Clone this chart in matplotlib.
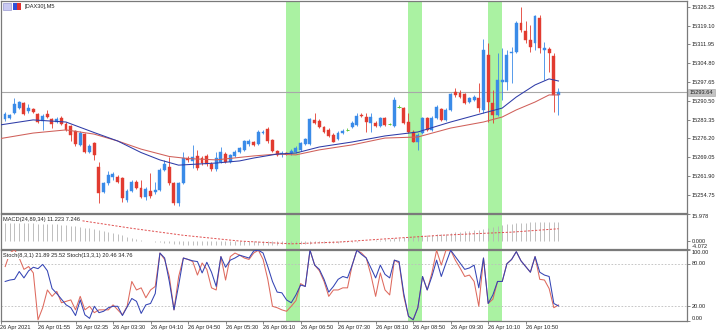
import matplotlib
matplotlib.use('Agg')
import matplotlib.pyplot as plt
import matplotlib.transforms as mtrans
from matplotlib.patches import Rectangle
import numpy as np

plt.rcParams['font.family'] = ['Liberation Sans', 'DejaVu Sans']

# ---------------- data (M5 DAX30 candles) ----------------
opens = [15283.4, 15284.0, 15285.7, 15287.6, 15289.5, 15286.6, 15287.2, 15285.3, 15282.9, 15285.3,
         15283.4, 15282.5, 15284.0, 15281.6, 15280.9, 15279.0, 15273.7, 15277.8, 15271.1, 15274.3,
         15265.4, 15255.9, 15259.1, 15261.5, 15261.6, 15261.0, 15252.7, 15256.2, 15259.7, 15257.4,
         15254.0, 15256.2, 15255.7, 15256.5, 15264.2, 15265.4, 15259.1, 15251.5, 15259.1, 15268.8,
         15267.7, 15269.5, 15268.7, 15269.5, 15266.4, 15264.5, 15267.2, 15270.2, 15267.3, 15269.5,
         15271.1, 15271.8, 15274.0, 15274.8, 15274.0, 15278.1, 15279.7, 15275.6, 15271.5, 15270.2,
         15270.7, 15270.5, 15271.1, 15271.8, 15274.0, 15274.0, 15283.2, 15282.9, 15280.6, 15279.4,
         15277.5, 15275.8, 15278.1, 15279.4, 15280.6, 15281.3, 15285.1, 15284.2, 15281.9, 15282.1,
         15280.9, 15283.8, 15281.6, 15280.9, 15288.2, 15287.6, 15282.5, 15278.7, 15274.9, 15278.1,
         15283.8, 15279.4, 15283.8, 15287.2, 15283.2, 15287.0, 15293.9, 15293.6, 15293.1, 15290.1,
         15290.8, 15291.4, 15287.0, 15307.9, 15289.5, 15285.1, 15297.7, 15297.7, 15308.5, 15309.1,
         15320.2, 15317.0, 15313.6, 15312.3, 15321.8, 15309.8, 15310.1, 15307.5, 15292.7]
highs = [15286.2, 15285.5, 15291.4, 15290.5, 15290.1, 15289.1, 15287.7, 15285.8, 15285.5, 15287.0,
         15283.9, 15284.3, 15284.7, 15282.4, 15281.3, 15279.4, 15279.0, 15278.2, 15274.0, 15274.8,
         15267.3, 15259.6, 15263.8, 15263.5, 15262.3, 15261.5, 15256.9, 15260.4, 15260.4, 15260.4,
         15257.7, 15263.0, 15259.7, 15264.9, 15268.0, 15269.2, 15259.6, 15259.6, 15271.1, 15269.5,
         15273.7, 15271.8, 15269.5, 15270.2, 15267.2, 15271.0, 15273.0, 15271.0, 15270.2, 15271.8,
         15272.9, 15275.6, 15275.9, 15275.2, 15279.4, 15279.4, 15280.5, 15275.9, 15271.8, 15271.5,
         15271.0, 15272.1, 15273.3, 15274.8, 15276.3, 15283.9, 15285.7, 15283.5, 15280.9, 15280.1,
         15278.2, 15279.0, 15279.7, 15280.1, 15282.8, 15285.7, 15285.7, 15285.7, 15285.7, 15282.8,
         15284.3, 15284.3, 15282.0, 15291.9, 15288.9, 15288.1, 15285.7, 15279.4, 15278.2, 15284.3,
         15284.3, 15284.7, 15288.9, 15287.7, 15287.7, 15293.4, 15295.2, 15294.6, 15293.4, 15291.9,
         15292.7, 15297.1, 15313.9, 15312.3, 15294.6, 15308.5, 15310.4, 15309.8, 15311.0, 15320.8,
         15326.3, 15320.9, 15319.3, 15323.1, 15323.1, 15312.9, 15311.0, 15308.5, 15295.2]
lows = [15282.8, 15283.5, 15285.4, 15287.3, 15285.1, 15285.7, 15285.8, 15282.0, 15279.4, 15283.9,
        15280.1, 15282.0, 15281.3, 15279.0, 15275.2, 15273.3, 15273.3, 15270.6, 15270.6, 15268.0,
        15251.6, 15255.4, 15258.4, 15260.4, 15259.1, 15252.1, 15251.9, 15255.8, 15256.9, 15253.5,
        15252.7, 15253.5, 15255.0, 15256.2, 15263.8, 15258.4, 15250.8, 15250.6, 15258.8, 15267.2,
        15264.9, 15264.2, 15266.1, 15265.7, 15263.8, 15263.8, 15266.8, 15266.8, 15266.8, 15269.1,
        15270.6, 15271.4, 15273.3, 15273.3, 15273.7, 15277.8, 15274.4, 15271.0, 15269.5, 15269.2,
        15269.9, 15269.9, 15270.6, 15271.4, 15273.7, 15273.7, 15281.6, 15280.1, 15278.2, 15276.7,
        15274.8, 15275.6, 15277.8, 15279.0, 15280.1, 15280.9, 15284.3, 15278.7, 15278.7, 15280.5,
        15280.5, 15280.9, 15281.3, 15280.5, 15287.7, 15281.6, 15278.2, 15274.8, 15271.8, 15277.8,
        15279.0, 15279.0, 15283.5, 15282.8, 15282.8, 15286.6, 15292.0, 15291.5, 15289.3, 15289.6,
        15290.4, 15286.3, 15285.7, 15282.5, 15281.9, 15284.7, 15290.8, 15294.6, 15297.1, 15308.6,
        15316.7, 15312.3, 15309.1, 15309.8, 15308.5, 15298.4, 15301.5, 15286.3, 15285.1]
closes = [15285.3, 15285.1, 15289.1, 15289.9, 15285.4, 15287.8, 15286.1, 15282.5, 15284.7, 15284.2,
          15281.6, 15283.4, 15281.6, 15279.4, 15277.5, 15273.9, 15278.3, 15271.1, 15273.3, 15269.9,
          15255.3, 15259.1, 15262.3, 15262.5, 15259.7, 15253.4, 15256.2, 15259.7, 15257.4, 15254.0,
          15256.9, 15254.3, 15256.5, 15264.2, 15266.3, 15259.1, 15251.5, 15259.1, 15268.8, 15268.0,
          15269.1, 15264.8, 15266.8, 15266.4, 15264.5, 15268.7, 15271.0, 15267.3, 15269.9, 15271.1,
          15272.4, 15275.2, 15275.2, 15273.7, 15278.6, 15278.7, 15275.2, 15271.5, 15269.9, 15270.7,
          15270.2, 15271.5, 15272.6, 15274.3, 15275.8, 15283.4, 15282.1, 15280.6, 15278.5, 15277.1,
          15274.9, 15278.3, 15279.1, 15279.4, 15282.1, 15284.7, 15284.6, 15282.5, 15284.2, 15280.9,
          15283.8, 15281.3, 15281.6, 15290.8, 15288.2, 15281.9, 15278.7, 15274.9, 15277.5, 15283.8,
          15279.4, 15283.8, 15288.2, 15283.2, 15287.0, 15293.1, 15292.7, 15292.0, 15289.5, 15291.4,
          15292.0, 15287.6, 15309.8, 15290.1, 15285.1, 15298.4, 15298.4, 15307.9, 15309.1, 15320.2,
          15317.4, 15313.6, 15311.0, 15322.7, 15310.4, 15310.4, 15308.5, 15292.7, 15293.64]

# moving averages (bar index, price)
ma_fast_bars = [-1, 6, 13, 19, 24, 29, 33, 37, 41, 45, 50, 53, 58, 62, 67, 74, 81, 88, 95, 102, 106, 109, 113, 116, 118]
ma_fast_vals = [15281.3, 15283.2, 15282.4, 15278.4, 15275.2, 15270.8, 15268.0, 15266.0, 15266.4, 15266.8,
                15267.6, 15268.7, 15270.2, 15270.6, 15272.9, 15274.8, 15277.1, 15278.6, 15282.4, 15285.8,
                15287.7, 15291.9, 15296.5, 15298.8, 15298.0]
ma_slow_bars = [-1, 6, 13, 19, 24, 29, 35, 39, 45, 53, 58, 62, 67, 74, 81, 88, 95, 102, 106, 109, 113, 116, 118]
ma_slow_vals = [15276.1, 15278.2, 15279.4, 15277.8, 15275.2, 15272.1, 15269.3, 15268.5, 15268.0, 15269.5,
                15270.2, 15269.9, 15271.8, 15273.7, 15276.3, 15276.7, 15280.1, 15282.4, 15284.3, 15287.0,
                15290.0, 15292.7, 15292.7]

# MACD histogram and signal
macd_hist = [10.6, 10.6, 10.5, 10.5, 10.4, 10.4, 10.3, 10.2, 10.1, 10.0,
             9.9, 9.7, 9.5, 9.3, 9.0, 8.7, 8.3, 7.9, 7.5, 7.0,
             6.5, 5.9, 5.3, 4.7, 4.0, 3.4, 2.8, 2.2, 1.6, 1.0,
             0.5, 0.1, -0.3, -0.6, -0.9, -1.1, -1.4, -1.6, -1.8, -1.9,
             -2.0, -2.1, -2.2, -2.2, -2.3, -2.3, -2.3, -2.3, -2.3, -2.2,
             -2.2, -2.1, -2.1, -2.0, -2.0, -1.9, -1.9, -1.8, -1.8, -1.7,
             -1.7, -1.6, -1.6, -1.5, -1.4, -1.3, -1.2, -1.1, -1.0, -0.9,
             -0.8, -0.7, -0.6, -0.5, -0.3, -0.1, 0.1, 0.3, 0.5, 0.7,
             1.0, 1.3, 1.6, 1.9, 2.2, 2.5, 2.8, 3.0, 3.2, 3.4,
             3.6, 3.8, 4.0, 4.2, 4.5, 4.8, 5.1, 5.4, 5.7, 6.0,
             6.4, 6.8, 7.3, 7.8, 8.3, 8.8, 9.3, 9.7, 10.1, 10.4,
             10.6, 10.8, 11.0, 11.1, 11.2, 11.3, 11.3, 11.25, 11.223]
signal_bars = [0, 8, 16, 27, 38, 50, 61, 71, 82, 93, 101, 108, 118]
signal_vals = [13.5, 12.8, 12.0, 7.5, 3.5, 0.2, -1.4, -0.4, 1.6, 3.5, 4.5, 5.3, 7.246]

# Stochastics (main lines)
stoch_8 = [76, 95, 100, 88, 72, 76, 67, 1, 18, 43, 34, 41, 25, 27, 29, 15, 34, 15, 20, 11,
           15, 15, 15, 22, 15, 8, 20, 55, 43, 46, 32, 43, 48, 95, 86, 62, 15, 62, 88, 86,
           83, 64, 81, 72, 46, 43, 90, 57, 90, 95, 92, 88, 86, 95, 99, 86, 58, 20, 18, 15,
           13, 20, 28, 52, 48, 99, 78, 70, 55, 34, 43, 43, 46, 46, 78, 99, 95, 88, 64, 34,
           67, 43, 36, 85, 81, 34, 6, 1, 18, 62, 43, 67, 99, 78, 99, 99, 85, 74, 62, 64,
           55, 20, 88, 24, 30, 55, 55, 80, 86, 97, 84, 76, 68, 90, 58, 57, 45, 18, 21.89]
stoch_13 = [55, 57, 58, 69, 60, 70, 75, 73, 79, 70, 45, 38, 30, 22, 18, 7, 29, 8, 3, 20,
            11, 13, 18, 20, 20, 7, 19, 31, 27, 10, 22, 24, 38, 95, 88, 55, 15, 50, 88, 86,
            84, 83, 67, 82, 68, 48, 90, 75, 85, 88, 92, 90, 88, 98, 99, 95, 76, 55, 40, 39,
            29, 25, 36, 50, 48, 99, 78, 72, 58, 40, 48, 58, 62, 60, 78, 99, 93, 88, 74, 60,
            78, 65, 60, 85, 83, 38, 6, 1, 18, 62, 43, 62, 85, 62, 81, 99, 90, 81, 72, 74,
            78, 46, 88, 24, 36, 55, 55, 80, 86, 97, 84, 76, 68, 90, 68, 64, 62, 24, 20.46]

time_labels = ["26 Apr 2021", "26 Apr 01:55", "26 Apr 02:35", "26 Apr 03:30", "26 Apr 04:10",
               "26 Apr 04:50", "26 Apr 05:30", "26 Apr 06:10", "26 Apr 06:50", "26 Apr 07:30",
               "26 Apr 08:10", "26 Apr 08:50", "26 Apr 09:30", "26 Apr 10:10", "26 Apr 10:50"]
label_bars = [-1, 7, 15, 23, 31, 39, 47, 55, 63, 71, 79, 87, 95, 103, 111]
price_ticks = [15254.75, 15261.90, 15269.05, 15276.20, 15283.35, 15290.50,
               15297.65, 15304.80, 15311.95, 15319.10, 15326.25]
band_starts = [60, 86, 103]
last_price = 15293.64

# ---------------- styling ----------------
W, H = 720, 334
BLUE = '#3A8BE8'
RED = '#E23B30'
GREEN = '#5DC43A'
MA_BLUE = '#2E3CA8'
MA_RED = '#D0605A'
BAND = '#AAF2A2'
SPINE = '#7A7A7A'
FS = 4.1

fig = plt.figure(figsize=(W / 100, H / 100), dpi=100)
fig.patch.set_facecolor('white')


def rect(x0, y0, x1, y1):
    return [x0 / W, 1 - y1 / H, (x1 - x0) / W, (y1 - y0) / H]


ax1 = fig.add_axes(rect(0.5, 1, 687, 212.5))
ax2 = fig.add_axes(rect(0.5, 213.5, 687, 248.5))
ax3 = fig.add_axes(rect(0.5, 249.5, 687, 320.5))

XMIN, XMAX = -0.96, 145.4
for ax in (ax1, ax2, ax3):
    ax.set_xlim(XMIN, XMAX)
    for s in ax.spines.values():
        s.set_color(SPINE)
        s.set_linewidth(0.9)
    ax.yaxis.tick_right()
    ax.tick_params(axis='y', labelsize=FS, length=2, width=0.5, color='#555555',
                   labelcolor='#222222', pad=1.5)
    for b in band_starts:
        ax.axvspan(b - 0.1, b + 2.9, color=BAND, lw=0, zorder=0)

# ---------------- main panel ----------------
o = np.array(opens); h = np.array(highs); l = np.array(lows); c = np.array(closes)
x = np.arange(len(o))
up = c > o
dn = c < o
dj = c == o

ax1.vlines(x[up], l[up], h[up], color=BLUE, lw=0.6, zorder=3)
ax1.vlines(x[dn], l[dn], h[dn], color=RED, lw=0.6, zorder=3)
ax1.vlines(x[dj], l[dj], h[dj], color=GREEN, lw=0.6, zorder=3)
ax1.bar(x[up], c[up] - o[up], bottom=o[up], width=0.62, color=BLUE, edgecolor=BLUE, lw=0.3, zorder=4)
ax1.bar(x[dn], o[dn] - c[dn], bottom=c[dn], width=0.62, color=RED, edgecolor=RED, lw=0.3, zorder=4)
ax1.hlines(c[dj], x[dj] - 0.35, x[dj] + 0.35, color=GREEN, lw=0.7, zorder=4)

ax1.plot(ma_slow_bars, ma_slow_vals, color=MA_RED, lw=0.75, zorder=5)
ax1.plot(ma_fast_bars, ma_fast_vals, color=MA_BLUE, lw=0.75, zorder=5)

ax1.axhline(last_price, color='#A8A8A8', lw=0.8, zorder=2)
ax1.set_ylim(15247.99, 15328.42)
ax1.set_yticks(price_ticks)
ax1.set_yticklabels([f"{p:.2f}" for p in price_ticks])
ax1.tick_params(axis='x', bottom=False, labelbottom=False)
trans1 = mtrans.blended_transform_factory(ax1.transAxes, ax1.transData)
ax1.text(1.004, last_price, f"{last_price:.2f}", transform=trans1, fontsize=FS,
         va='center', ha='left', color='#222222',
         bbox=dict(boxstyle='square,pad=0.25', fc='#C4C4C4', ec='#A0A0A0', lw=0.4), zorder=6)

# header icons and symbol
fig.add_artist(Rectangle((3 / W, 1 - 10 / H), 8 / W, 7 / H, transform=fig.transFigure,
                         fc='#C9C9F2', ec='#8888C8', lw=0.4))
fig.add_artist(Rectangle((12.5 / W, 1 - 10 / H), 4 / W, 7 / H, transform=fig.transFigure,
                         fc='#3050D8', ec='none'))
fig.add_artist(Rectangle((16.5 / W, 1 - 10 / H), 4 / W, 7 / H, transform=fig.transFigure,
                         fc='#E03030', ec='none'))
fig.text(25 / W, 1 - 6.8 / H, "[DAX30],M5", fontsize=FS, va='center', ha='left', color='#222222')

# ---------------- MACD panel ----------------
mh = np.array(macd_hist)
ax2.vlines(np.arange(len(mh)), 0, mh, color='#B4B4B4', lw=0.6, zorder=2)
ax2.plot(signal_bars, signal_vals, color='#E05050', lw=0.7, ls=(0, (2.2, 1.6)), zorder=3)
ax2.set_ylim(-4.072, 15.978)
ax2.set_yticks([15.978, 0.0, -4.072])
ax2.set_yticklabels(['15.978', '0.000', '-4.072'])
for lab, va in zip(ax2.get_yticklabels(), ['top', 'center', 'bottom']):
    lab.set_va(va)
ax2.tick_params(axis='x', bottom=False, labelbottom=False)
ax2.text(0.004, 0.9, "MACD(24,89,34) 11.223 7.246", transform=ax2.transAxes, fontsize=FS,
         va='top', ha='left', color='#222222',
         bbox=dict(boxstyle='square,pad=0.1', fc='white', ec='none'), zorder=6)

# ---------------- Stochastic panel ----------------
ax3.axhline(80, color='#BDBDBD', lw=0.6, ls=(0, (2, 2)), zorder=1)
ax3.axhline(20, color='#BDBDBD', lw=0.6, ls=(0, (2, 2)), zorder=1)
ax3.plot(np.arange(len(stoch_8)), stoch_8, color='#DE6A5E', lw=0.75, zorder=3)
ax3.plot(np.arange(len(stoch_13)), stoch_13, color='#3444B4', lw=0.75, zorder=4)
ax3.set_ylim(0, 100)
ax3.set_yticks([100, 80, 20, 0])
ax3.set_yticklabels(['100.00', '80.00', '20.00', '0.00'])
for lab, va in zip(ax3.get_yticklabels(), ['top', 'center', 'center', 'bottom']):
    lab.set_va(va)
ax3.text(0.004, 0.95, "Stoch(8,3,1) 21.89 25.52 Stoch(13,3,1) 20.46 34.76",
         transform=ax3.transAxes, fontsize=FS, va='top', ha='left', color='#222222',
         bbox=dict(boxstyle='square,pad=0.1', fc='white', ec='none'), zorder=6)
ax3.set_xticks(label_bars)
ax3.set_xticklabels(time_labels)
ax3.tick_params(axis='x', labelsize=FS, length=2, width=0.5, color='#555555',
                labelcolor='#222222', pad=1.5)
for lab in ax3.get_xticklabels():
    lab.set_ha('left')

fig.savefig('out.png', dpi=100, facecolor='white')
